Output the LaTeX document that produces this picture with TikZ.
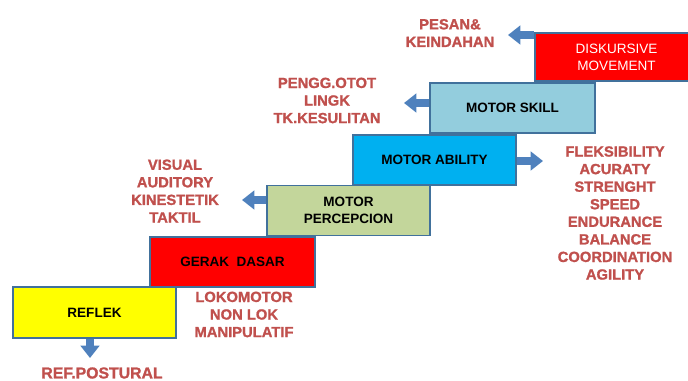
\documentclass[tikz,border=0pt]{standalone}
\usepackage{fontspec}
\setmainfont{Liberation Sans}
\newfontfamily\lblfont{Liberation Sans Bold}[FakeBold=1.2]
\usepackage{tikz}
\usetikzlibrary{arrows.meta,positioning}
\definecolor{stpyellow}{HTML}{FFFF00}
\definecolor{stpred}{HTML}{FF0000}
\definecolor{stpgreen}{HTML}{C3D69B}
\definecolor{stpcyan}{HTML}{00B0F0}
\definecolor{stpsky}{HTML}{93CDDD}
\definecolor{stpline}{HTML}{41719C}
\definecolor{stpblue}{HTML}{4F81BD}
\definecolor{stplabel}{HTML}{C0504D}
\tikzset{
  box/.style={draw=stpline,line width=1.1pt,align=center,inner sep=2pt,minimum width=3.26cm,minimum height=1cm,font=\fontsize{7.7}{9.6}\selectfont\bfseries},
  lbl/.style={align=center,text=stplabel,inner sep=0pt,font=\fontsize{8.4}{10}\selectfont\lblfont},
  ar/.style={-{Triangle[length=7pt,width=10.5pt]},draw=stpblue,line width=4.5pt},
}
\begin{document}
\begin{tikzpicture}[x=0.02cm,y=-0.02cm]
  \useasboundingbox (0,0) rectangle (688,381);
  \clip (0,0) rectangle (688,381);
  % the steps
  \node[box,fill=stpyellow,minimum height=1.02cm] (reflek) at (94.5,312.5) {REFLEK};
  \node[box,fill=stpred,minimum width=3.3cm] (dasar) at (232.5,262) {GERAK\ \ DASAR};
  \node[box,fill=stpgreen] (persepsi) at (348.5,210.5) {MOTOR\\PERCEPCION};
  \node[box,fill=stpcyan] (ability) at (434.5,160) {MOTOR ABILITY};
  \node[box,fill=stpsky,minimum width=3.3cm] (skill) at (512.5,108) {MOTOR SKILL};
  \node[box,fill=stpred,text=white,minimum height=0.96cm,font=\fontsize{7.7}{9.6}\selectfont] (diskursif) at (616.5,57) {DISKURSIVE\\MOVEMENT};
  % the labels
  \node[lbl] (pesan) at (450,33) {PESAN\&\\KEINDAHAN};
  \node[lbl] (otot) at (327,100.5) {PENGG.OTOT\\LINGK\\TK.KESULITAN};
  \node[lbl] (sensori) at (175,191) {VISUAL\\AUDITORY\\KINESTETIK\\TAKTIL};
  \node[lbl] (gerak) at (244,314.5) {LOKOMOTOR\\NON LOK\\MANIPULATIF};
  \node[lbl,font=\fontsize{9}{10}\selectfont\lblfont] (postural) at (102,373) {REF.POSTURAL};
  \node[lbl] (unsur) at (615,213) {FLEKSIBILITY\\ACURATY\\STRENGHT\\SPEED\\ENDURANCE\\BALANCE\\COORDINATION\\AGILITY};
  % block arrows
  \coordinate (pesanA) at (508,35);
  \coordinate (ototA) at (404,103);
  \coordinate (unsurA) at (543,161);
  \coordinate (sensoriA) at (242,200);
  \coordinate (posturalA) at (90,358);
  \draw[ar] (diskursif.west |- pesanA) -- (pesanA);
  \draw[ar] (skill.west |- ototA) -- (ototA);
  \draw[ar] (ability.east |- unsurA) -- (unsurA);
  \draw[ar] (persepsi.west |- sensoriA) -- (sensoriA);
  \draw[ar] (reflek.south -| posturalA) -- (posturalA);
\end{tikzpicture}
\end{document}
